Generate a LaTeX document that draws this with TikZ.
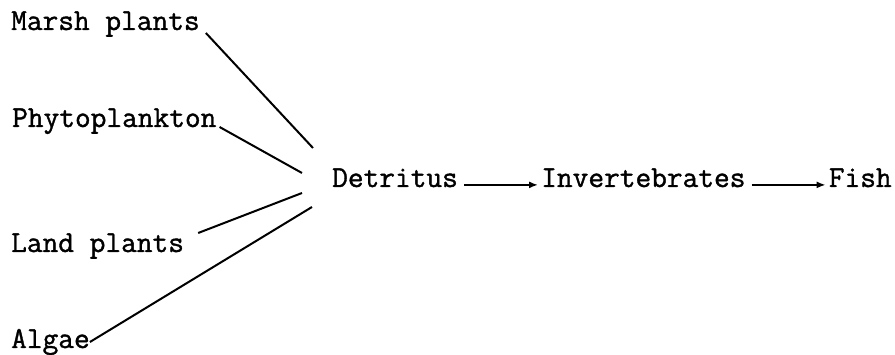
\documentclass[tikz,border=0pt]{standalone}
\usepackage{fontspec}
\setmonofont[FakeBold=1.2]{Latin Modern Mono}
\usetikzlibrary{positioning,arrows.meta,calc}

\begin{document}
\begin{tikzpicture}[x=1pt,y=1pt]
    \tikzset{Label/.style={inner sep=0pt, anchor=base west,
        font=\ttfamily\fontsize{30.5}{35}\selectfont,
        text height=0.62em, text depth=0.2em}}
    \tikzset{Feed/.style={line width=2pt}}
    \tikzset{Flow/.style={line width=2pt, -{Latex[length=9pt,width=7pt]},
        shorten <=6pt, shorten >=3pt}}
    \useasboundingbox (0,0) rectangle (895,355);
    \node[Label] (marsh) at (11,325) {Marsh plants};
    \node[Label] (phyto) at (12,228) {Phytoplankton};
    \node[Label] (land)  at (11,103) {Land plants};
    \node[Label] (algae) at (11,7)   {Algae};
    \node[Label] (detritus) at (332,168) {Detritus};
    \node[Label, base right=83pt of detritus] (invert) {Invertebrates};
    \node[Label, base right=83pt of invert]   (fish)   {Fish};
    \coordinate (m) at ($(detritus.base west)+(-19,39)$);
    \coordinate (p) at ($(detritus.base west)+(-30,14)$);
    \coordinate (l) at ($(detritus.base west)+(-30,-6)$);
    \coordinate (a) at ($(detritus.base west)+(-20,-20)$);
    \draw[Feed] ([xshift=6pt,yshift=-3pt]marsh.base east) -- (m);
    \draw[Feed] ([xshift=3pt]phyto.base east) -- (p);
    \draw[Feed] ([xshift=14pt,yshift=19pt]land.base east) -- (l);
    \draw[Feed] ([xshift=0pt,yshift=6pt]algae.base east) -- (a);
    \draw[Flow] (detritus) -- (invert);
    \draw[Flow] (invert) -- (fish);
\end{tikzpicture}
\end{document}
